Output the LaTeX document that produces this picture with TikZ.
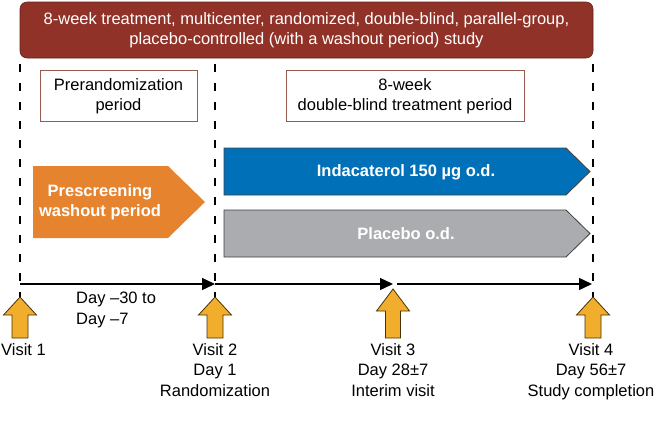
\documentclass[tikz,border=0pt]{standalone}
\usepackage{fontspec}
\setmainfont{Liberation Sans}
\usetikzlibrary{arrows.meta}
\definecolor{bannerC}{RGB}{145,50,40}
\definecolor{boxedge}{RGB}{150,90,80}
\definecolor{orangeC}{RGB}{230,131,47}
\definecolor{blueC}{RGB}{0,112,185}
\definecolor{grayC}{RGB}{170,172,176}
\definecolor{goldC}{RGB}{240,174,44}
\definecolor{goldedge}{RGB}{70,50,10}
\tikzset{
  txt/.style={font=\fontsize{16.5}{20.5}\selectfont, align=center, inner sep=0pt},
  bannerbox/.style={txt, fill=bannerC, draw=bannerC!70!black, line width=0.6pt, rounded corners=7pt, text=white},
  periodbox/.style={txt, draw=boxedge, line width=0.9pt, fill=white},
  dashln/.style={line width=1.8pt, dash pattern=on 8pt off 11pt},
  axisarrow/.style={line width=1.4pt, -{Triangle[length=13pt,width=12pt]}},
  armtext/.style={txt, font=\fontsize{16.5}{20.5}\selectfont\bfseries, text=white},
  visitarrow/.pic={\draw[fill=goldC, draw=goldedge, line width=0.8pt, line join=miter]
      (-8,0) -- (-8,-23) -- (-16.5,-23) -- (0,-41) -- (16.5,-23) -- (8,-23) -- (8,0) -- cycle;},
  bigvisitarrow/.pic={\draw[fill=goldC, draw=goldedge, line width=0.8pt, line join=miter]
      (-7.5,0) -- (-7.5,-27) -- (-16.5,-27) -- (0,-49) -- (16.5,-27) -- (7.5,-27) -- (7.5,0) -- cycle;}
}
\begin{document}
\begin{tikzpicture}[x=1pt,y=-1pt]
\useasboundingbox (0,0) rectangle (655,424);

% banner
\node[bannerbox, minimum width=573pt, minimum height=56pt] (title) at (306.5,30)
  {8-week treatment, multicenter, randomized, double-blind, parallel-group,\\
   placebo-controlled (with a washout period) study};

% dashed time dividers
\draw[dashln] (20,64) -- (20,300);
\draw[dashln] (215,64) -- (215,300);
\draw[dashln] (593,64) -- (593,300);

% period boxes
\node[periodbox, minimum width=157pt, minimum height=51pt] (pre) at (118.5,96)
  {Prerandomization\\period};
\node[periodbox, minimum width=238pt, minimum height=51pt] (dbt) at (405,96)
  {8-week\\double-blind treatment period};

% treatment arms
\fill[orangeC] (33,166) -- (168,166) -- (205,202) -- (168,238) -- (33,238) -- cycle;
\node[armtext] (wash) at (100,202) {Prescreening\\washout period};

\draw[fill=blueC, draw=black!75, line width=0.8pt] (224,148) -- (566,148) -- (590,171.5) -- (566,195) -- (224,195) -- cycle;
\node[armtext] (inda) at (406,172) {Indacaterol 150 µg o.d.};

\draw[fill=grayC, draw=black!75, line width=0.8pt] (224,210) -- (566,210) -- (590,233.5) -- (566,257) -- (224,257) -- cycle;
\node[armtext] (plac) at (406,234) {Placebo o.d.};

% time axis
\coordinate (t1) at (20,284);
\coordinate (t2) at (215,284);
\coordinate (t3) at (393,284);
\coordinate (t3b) at (397,284);
\coordinate (t4) at (592,284);
\draw[axisarrow] (t1) -- (t2);
\draw[axisarrow] (t2) -- (t3);
\draw[axisarrow] (t3b) -- (t4);

\node[txt, align=left, anchor=north west] (days) at (76,292) {Day –30 to\\Day –7};

% visit arrows
\pic at (20,338) {visitarrow};
\pic at (215,338) {visitarrow};
\pic at (393,338) {bigvisitarrow};
\pic at (593,338) {visitarrow};

% visit labels
\node[txt, anchor=north west] (v1) at (1,343) {Visit 1};
\node[txt, anchor=north] (v2) at (215,343) {Visit 2\\Day 1\\Randomization};
\node[txt, anchor=north] (v3) at (393,343) {Visit 3\\Day 28±7\\Interim visit};
\node[txt, anchor=north] (v4) at (591,343) {Visit 4\\Day 56±7\\Study completion};
\end{tikzpicture}
\end{document}
